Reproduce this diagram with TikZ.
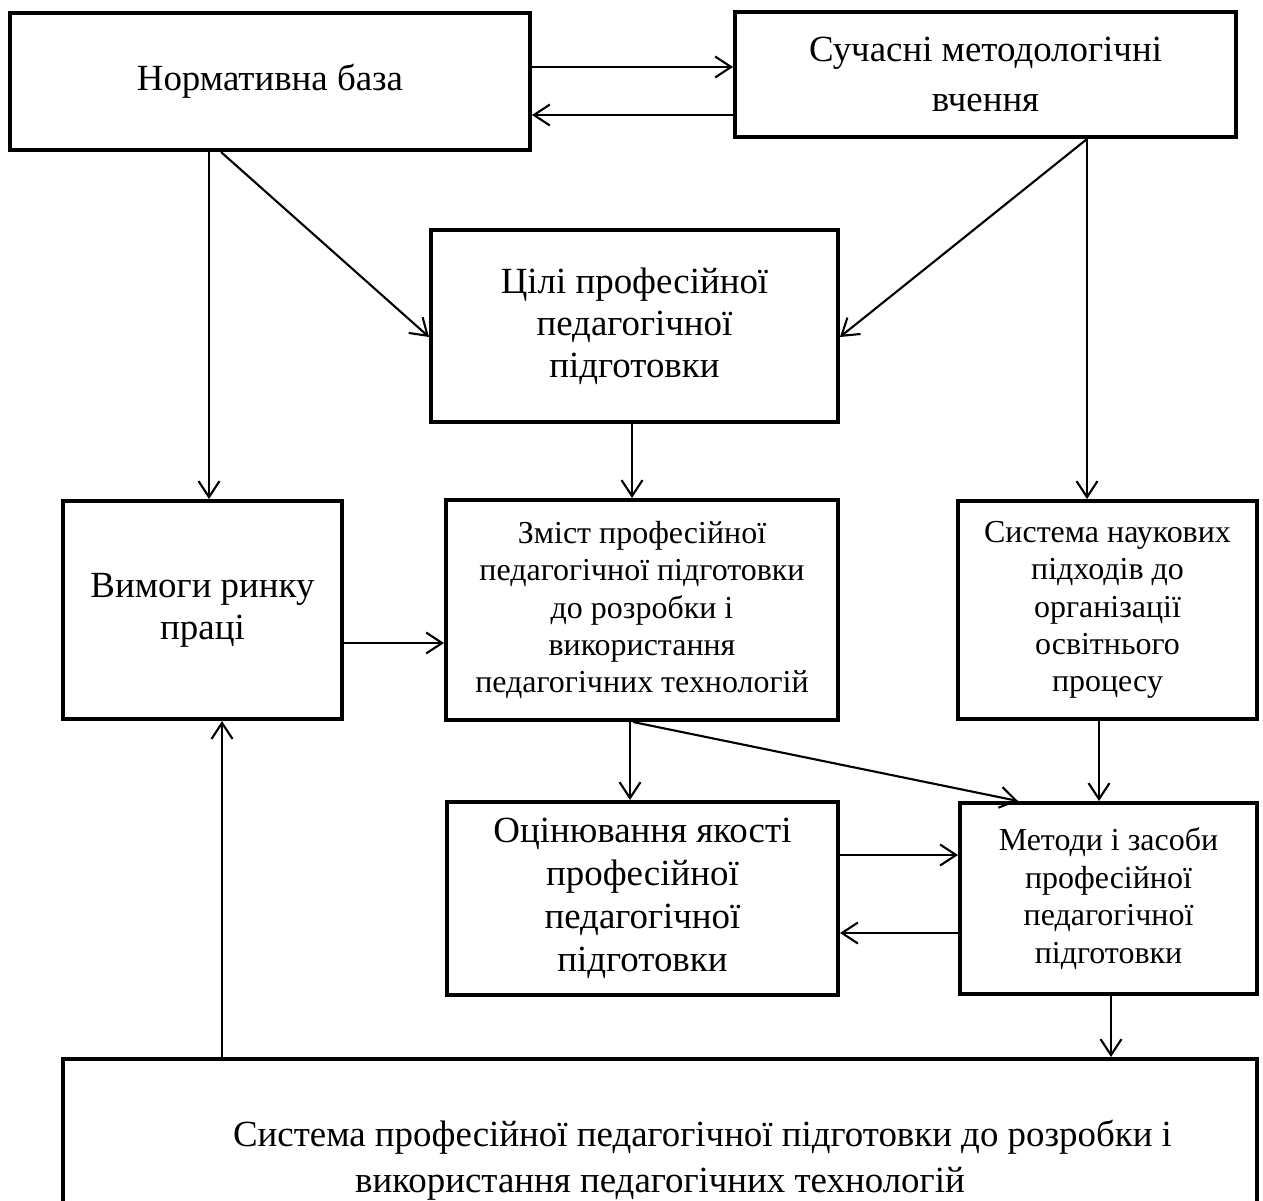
\documentclass[tikz,border=0pt]{standalone}
\usepackage{fontspec}
\setmainfont{Liberation Serif}
\usetikzlibrary{arrows.meta}

% text sizes used in the boxes
\newcommand\bigtxt{\fontsize{21pt}{24pt}\selectfont}
\newcommand\widetxt{\fontsize{21pt}{28.4pt}\selectfont}
\newcommand\smalltxt{\fontsize{18.2pt}{21.3pt}\selectfont}

\begin{document}
\begin{tikzpicture}[x=0.02cm, y=-0.02cm,
  box/.style={draw, rectangle, line width=2.3pt, align=center, inner sep=0pt, font=\bigtxt},
  smallbox/.style={box, font=\smalltxt},
  arr/.style={line width=1.2pt, -{Straight Barb[length=0.32cm, width=0.42cm, line width=1.2pt]}}
]
\clip (0,0) rectangle (1263,1200);

% blocks
\node[box, minimum width=10.4cm, minimum height=2.74cm] (A) at (270,81.5) {Нормативна база};
\node[box, font=\widetxt, minimum width=10.02cm, minimum height=2.5cm] (B) at (985.5,74.5) {Сучасні методологічні\\вчення};
\node[box, minimum width=8.14cm, minimum height=3.84cm] (C) at (634.5,326) {Цілі професійної\\педагогічної\\підготовки};
\node[box, minimum width=5.58cm, minimum height=4.36cm] (D) at (202.5,610) {Вимоги ринку\\праці};
\node[smallbox, minimum width=7.84cm, minimum height=4.4cm] (E) at (642,610) {Зміст професійної\\педагогічної підготовки\\до розробки і\\використання\\педагогічних технологій};
\node[smallbox, minimum width=5.98cm, minimum height=4.36cm] (F) at (1107.5,610) {Система наукових\\підходів до\\організації\\освітнього\\процесу};
\node[box, font=\fontsize{21pt}{24.5pt}\selectfont, minimum width=7.82cm, minimum height=3.86cm] (G) at (642.5,898.5) {Оцінювання якості\\професійної\\педагогічної\\підготовки};
\node[smallbox, minimum width=5.94cm, minimum height=3.82cm] (H) at (1108.5,898.5) {Методи і засоби\\професійної\\педагогічної\\підготовки};
\node[box, font=\fontsize{21pt}{26pt}\selectfont, minimum width=23.88cm, minimum height=4.04cm] (I) at (660,1160) {\hspace*{1.7cm}Система професійної педагогічної підготовки до розробки і\\використання педагогічних технологій};

% connectors
\draw[arr] (A.east |- 0,67) -- (B.west |- 0,67);
\draw[arr] (B.west |- 0,115) -- (A.east |- 0,115);
\draw[arr] (A.south -| 209,0) -- (D.north -| 209,0);
\draw[arr] (A.south -| 221,0) -- (C.west |- 0,337);
\draw[arr] (B.south -| 1087,0) -- (C.east |- 0,337);
\draw[arr] (B.south -| 1087,0) -- (F.north -| 1087,0);
\draw[arr] (C.south -| 632,0) -- (E.north -| 632,0);
\draw[arr] (D.east |- 0,643) -- (E.west |- 0,643);
\draw[arr] (E.south -| 630,0) -- (G.north -| 630,0);
\draw[arr] (E.south -| 633,0) -- (H.north -| 1018,0);
\draw[arr] (F.south -| 1099,0) -- (H.north -| 1099,0);
\draw[arr] (G.east |- 0,855) -- (H.west |- 0,855);
\draw[arr] (H.west |- 0,933) -- (G.east |- 0,933);
\draw[arr] (H.south -| 1111,0) -- (I.north -| 1111,0);
\draw[arr] (I.north -| 222,0) -- (D.south -| 222,0);
\end{tikzpicture}
\end{document}
